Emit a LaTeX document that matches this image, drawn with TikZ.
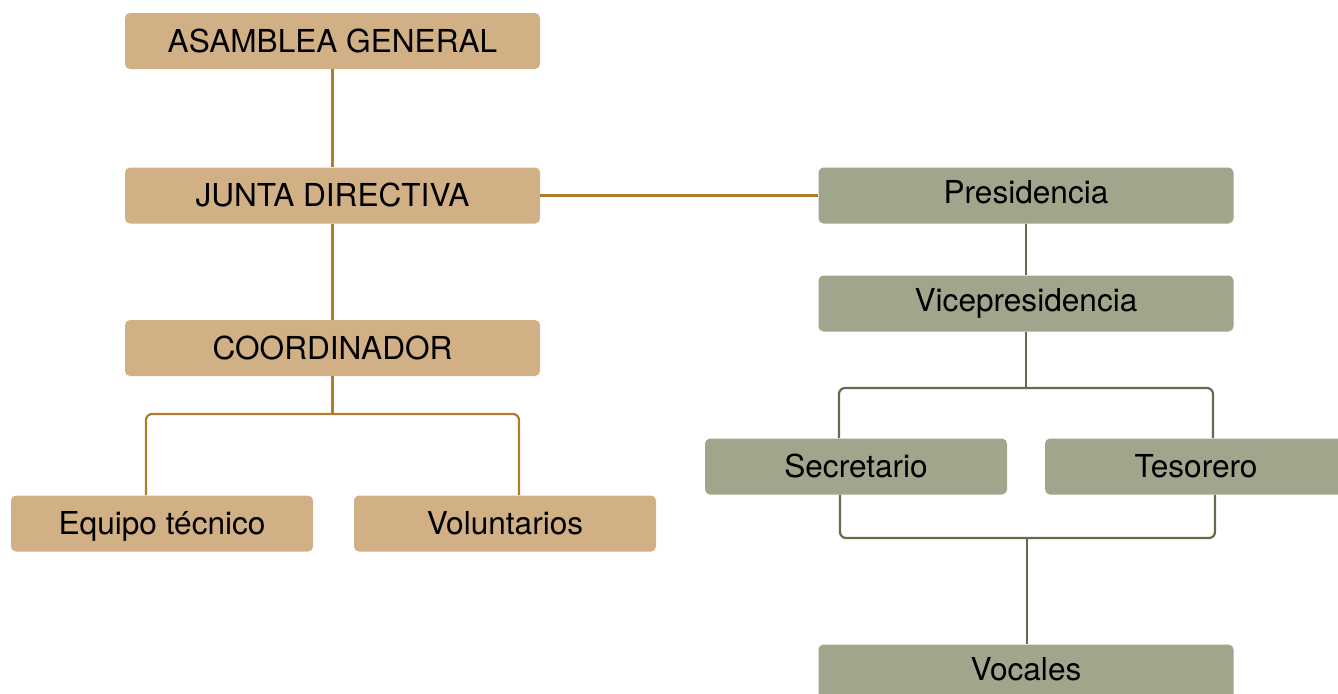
\documentclass[tikz,border=0pt]{standalone}
\usepackage{fontspec}
\setmainfont{TeX Gyre Heros}
\usepackage{tikz}
\usetikzlibrary{positioning}

\definecolor{tanfill}{HTML}{D0B084}
\definecolor{tanline}{HTML}{B07D2C}
\definecolor{sagefill}{HTML}{A0A58C}
\definecolor{sageline}{HTML}{5F6E48}

\begin{document}
\begin{tikzpicture}[x=0.5pt, y=-0.5pt,
    box/.style={rounded corners=2.5pt, inner sep=0pt, minimum height=28pt,
                text height=11.4pt, text depth=0pt,
                font=\fontsize{15.8}{18}\selectfont},
    tanbox/.style={box, fill=tanfill, minimum width=207.5pt},
    tansmall/.style={box, fill=tanfill, minimum width=151pt},
    sagebox/.style={box, fill=sagefill, minimum width=207.5pt, text depth=3pt},
    sagesmall/.style={box, fill=sagefill, minimum width=151pt},
    tanwire/.style={draw=tanline, line width=1.1pt, rounded corners=3pt},
    sagewire/.style={draw=sageline, line width=1.1pt, rounded corners=3pt}]
            \useasboundingbox (0,0) rectangle (1338,693);
            % left branch
            \node[tanbox] (asamblea) at (332.5,41) {ASAMBLEA GENERAL};
            \node[tanbox] (junta) at (332.5,195.5) {JUNTA DIRECTIVA};
            \node[tanbox] (coord) at (332.5,348) {COORDINADOR};
            \node[tansmall] (equipo) at (162,523.5) {Equipo técnico};
            \node[tansmall] (volunt) at (505,523.5) {Voluntarios};
            % right branch
            \node[sagebox] (presid) at (1026,195.5) {Presidencia};
            \node[sagebox] (vice) at (1026,303.5) {Vicepresidencia};
            \node[sagesmall] (secre) at (856,466.5) {Secretario};
            \node[sagesmall] (teso) at (1196,466.5) {Tesorero};
            \node[sagebox] (vocales) at (1026,672.5) {Vocales};
            \coordinate (ea) at (146,414);
            \coordinate (va) at (519,414);
            \coordinate (sa) at (839,388);
            \coordinate (ta) at (1213,388);
            \coordinate (sb) at (840,538);
            \coordinate (tb) at (1215,538);
            \coordinate (vb) at (1027,538);
            \draw[tanwire] (asamblea) -- (junta);
            \draw[tanwire] (junta) -- (coord);
            \draw[tanwire] (junta.east) -- (presid.west);
            \draw[tanwire] (coord.south) -- (coord.south |- ea);
            \draw[tanwire] (equipo.north -| ea) -- (ea) -- (va) -- (volunt.north -| va);
            \draw[sagewire] (presid) -- (vice);
            \draw[sagewire] (vice.south) -- (vice.south |- sa);
            \draw[sagewire] (secre.north -| sa) -- (sa) -- (ta) -- (teso.north -| ta);
            \draw[sagewire] (secre.south -| sb) -- (sb) -- (tb) -- (teso.south -| tb);
            \draw[sagewire] (vb) -- (vocales.north -| vb);
        \end{tikzpicture}
\end{document}
